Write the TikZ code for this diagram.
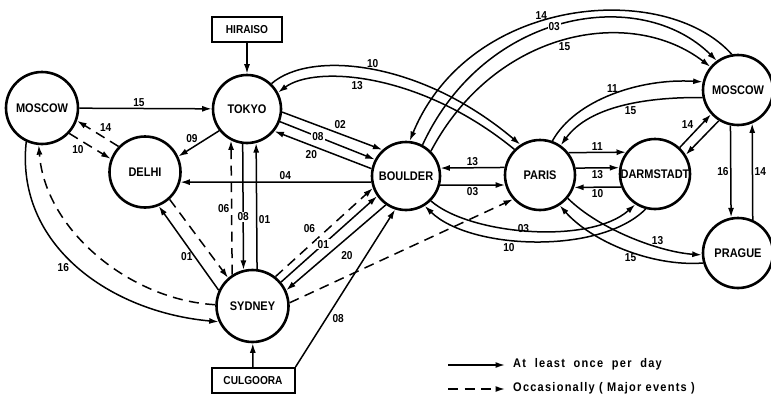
\documentclass[tikz,border=0pt]{standalone}
\usepackage{fontspec}
\setmainfont{Liberation Sans}[FakeStretch=0.88]
\newfontfamily\legfont{Liberation Sans}[FakeStretch=0.88,LetterSpace=10]
\usetikzlibrary{arrows.meta}
\newcommand\cname[1]{\makebox[0pt]{#1}}
\newcommand\wsp{\ \hspace{4.5pt}}
\begin{document}
\begin{tikzpicture}[x=1pt,y=-1pt,
  city/.style={circle,draw,line width=2.6pt,minimum size=#1,inner sep=0pt,font=\bfseries\fontsize{12.5}{13}\selectfont},
  box/.style={draw,line width=2pt,minimum width=#1,minimum height=25pt,inner sep=0pt,font=\bfseries\fontsize{11.5}{12}\selectfont},
  link/.style={line width=1.5pt,-{Latex[length=9.5pt,width=6pt]}},
  occ/.style={link,dash pattern=on 10pt off 6.5pt},
  lab/.style={font=\bfseries\fontsize{11.5}{12}\selectfont,inner sep=1.5pt},
  onl/.style={lab,fill=white,inner sep=1pt},
  legtext/.style={anchor=west,font=\legfont\bfseries\fontsize{12.5}{13}\selectfont,inner sep=0pt}
]
\useasboundingbox (0,0) rectangle (771,397);

% cities
\node[city=72pt] (moscowL) at (42,108) {\cname{MOSCOW}};
\node[city=68pt] (tokyo) at (247,109) {\cname{TOKYO}};
\node[city=71pt] (delhi) at (145,172) {\cname{DELHI}};
\node[city=68pt] (boulder) at (406,176) {\cname{BOULDER}};
\node[city=70pt] (paris) at (540,175) {\cname{PARIS}};
\node[city=70pt] (darm) at (655,174) {\cname{DARMSTADT}};
\node[city=70pt] (moscowR) at (738,90) {\cname{MOSCOW}};
\node[city=70pt] (prague) at (738,253) {\cname{PRAGUE}};
\node[city=72pt] (sydney) at (252.5,306) {\cname{SYDNEY}};
\node[box=70pt] (hiraiso) at (247,29.5) {HIRAISO};
\node[box=83pt] (culgoora) at (253,380.5) {CULGOORA};

% observatories
\draw[link] (hiraiso) -- (tokyo);
\draw[link] (culgoora) -- (sydney);
\draw[link] (culgoora.north east) -- node[lab,pos=0.35,below right]{08} (boulder.252);

% Moscow (left)
\draw[link] (moscowL) -- node[lab,above,pos=0.45] {15} (tokyo);
\draw[occ] (delhi.136.8) -- node[lab,above right] {14} (moscowL.-20.6);
\draw[occ] (moscowL.-43.1) -- node[lab,below left,pos=0.4] {10} (delhi.159.5);
\draw[link] (moscowL.245) .. controls (15,245) and (110,312) .. node[lab,below left,pos=0.47]{16} (sydney.205);
\draw[occ] (sydney.178) .. controls (130,300) and (45,230) .. (moscowL.265);

% Tokyo
\draw[link] (tokyo.218) -- node[lab,above left=-1pt] {09} (delhi.25);
\draw[link] (tokyo.-5) -- node[lab,above right] {02} (boulder.132);
\draw[link] (tokyo.-21) -- node[onl,pos=0.4] {08} (boulder.152);
\draw[link] (boulder.168) -- node[lab,below=3pt,pos=0.62] {20} (tokyo.-39);
\draw[link] (tokyo.46) .. controls (310,50) and (420,60) .. node[lab,above,pos=0.5]{10} (paris.123);
\draw[link] (paris.135) .. controls (420,72) and (315,65) .. node[lab,below,pos=0.57]{13} (tokyo.28);

% Tokyo - Sydney
\draw[occ] (sydney.123.7) -- node[lab,left,pos=0.49]{06} (tokyo.243.8);
\draw[link] (tokyo.263.2) -- node[onl,pos=0.58]{08} (sydney.104.5);
\draw[link] (sydney.83.6) -- node[lab,right,pos=0.39]{01} (tokyo.285.3);

% Delhi - Sydney, Boulder - Delhi
\draw[link] (sydney.155) -- node[lab,left,pos=0.4]{01} (delhi.-68.5);
\draw[occ] (delhi.-48) -- (sydney.131);
\draw[link] (boulder.190.2) -- node[lab,above,pos=0.45] {04} (delhi.-16.4);

% Sydney - Boulder / Paris
\draw[occ] (sydney.52) -- node[lab,above left=2pt,pos=0.45]{06} (boulder.200);
\draw[link] (sydney.40) -- node[onl,pos=0.44]{01} (boulder.215);
\draw[link] (boulder.235) -- node[lab,below right=2pt,pos=0.49]{20} (sydney.25);
\draw[occ] (sydney.5) -- (paris.222);

% Boulder - Paris
\draw[link] (paris.168.5) -- node[lab,above] {13} (boulder.13.6);
\draw[link] (boulder.-15.3) -- node[lab,below] {03} (paris.196.6);

% Boulder - Moscow (right)
\draw[link] (moscowR.100) .. controls (665,-20) and (470,-5) .. node[lab,above,pos=0.57]{14} (boulder.84);
\draw[link] (boulder.62) .. controls (485,10) and (640,-15) .. node[onl,pos=0.47]{03} (moscowR.126);
\draw[link] (boulder.45) .. controls (495,30) and (630,5) .. node[lab,below,pos=0.5]{15} (moscowR.140);

% Boulder - Darmstadt
\draw[link] (boulder.-45) .. controls (470,235) and (590,245) .. node[lab,pos=0.47,above=-5pt]{03} (darm.237);
\draw[link] (darm.255) .. controls (600,255) and (470,250) .. node[lab,below=2pt,pos=0.6]{10} (boulder.-58);

% Paris - Darmstadt
\draw[link] (paris.38.9) -- node[lab,above] {11} (darm.143.1);
\draw[link] (paris.11.5) -- node[lab,below] {13} (darm.170.1);
\draw[link] (darm.201.8) -- node[lab,below] {10} (paris.-20);

% Paris - Moscow (right)
\draw[link] (paris.70) .. controls (575,100) and (640,78) .. node[lab,above,pos=0.5]{11} (moscowR.167);
\draw[link] (moscowR.192) .. controls (650,97) and (590,105) .. node[lab,below,pos=0.45]{15} (paris.55);

% Paris - Prague
\draw[link] (paris.-40) .. controls (600,230) and (660,252) .. node[lab,above,pos=0.68]{13} (prague.183);
\draw[link] (prague.196) .. controls (650,267) and (590,240) .. node[lab,below,pos=0.45]{15} (paris.-57);

% Darmstadt - Moscow (right)
\draw[link] (darm.47) -- node[lab,above left]{14} (moscowR.222);
\draw[link] (moscowR.238) -- (darm.32);

% Moscow (right) - Prague
\draw[link] (moscowR.258.5) -- node[lab,left]{16} (prague.101.5);
\draw[link] (prague.66.4) -- node[lab,right]{14} (moscowR.293.6);

% legend
\coordinate (la) at (448,365);
\coordinate (lb) at (505,365);
\draw[link] (la) -- (lb);
\node[legtext] (lt1) at (513,364) {At\wsp least\wsp once\wsp per\wsp day};
\coordinate (lc) at (448,389);
\coordinate (ld) at (505,389);
\draw[occ] (lc) -- (ld);
\node[legtext] (lt2) at (513,388) {Occasionally ( Major events )};
\end{tikzpicture}
\end{document}
